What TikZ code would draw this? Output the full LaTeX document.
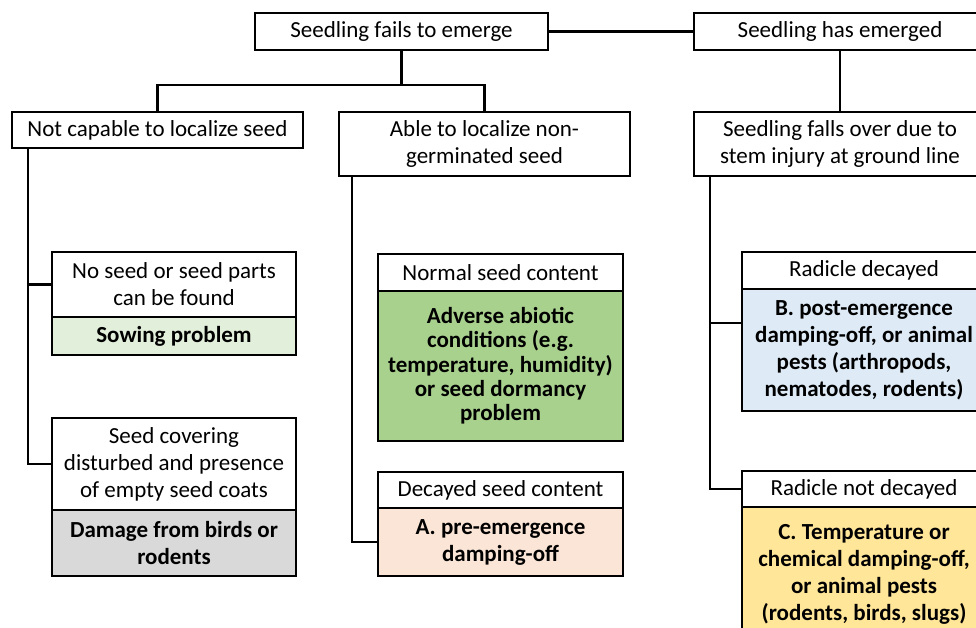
\documentclass[tikz,border=0pt]{standalone}
\usepackage{fontspec}
\setmainfont{Carlito}
\usetikzlibrary{positioning}

\definecolor{sowgreen}{RGB}{226,239,218}
\definecolor{abiogreen}{RGB}{169,209,142}
\definecolor{damagegrey}{RGB}{217,217,217}
\definecolor{prepeach}{RGB}{251,229,214}
\definecolor{postblue}{RGB}{222,235,247}
\definecolor{tempyellow}{RGB}{255,230,153}

\tikzset{
  box/.style={draw, line width=2.7pt, fill=white, align=center, inner sep=0pt, outer sep=0pt,
    font=\fontsize{23}{27}\selectfont},
  verdict/.style={box, font=\fontsize{23}{27}\selectfont\bfseries},
  link/.style={line width=2.4pt},
}

\begin{document}
\begin{tikzpicture}[x=1pt,y=1pt,yscale=-1,xscale=1]
\useasboundingbox (0,0) rectangle (976,628);
\clip (0,0) rectangle (976,628);

%Top row
\node[box, anchor=north west, minimum width=293, minimum height=37] (fails) at (255,13) {Seedling fails to emerge};
\node[box, anchor=north west, minimum width=292, minimum height=37] (emerged) at (694,13) {Seedling has emerged};

%Second row
\node[box, anchor=north west, minimum width=291, minimum height=36] (notcap) at (12,112) {Not capable to localize seed};
\node[box, anchor=north west, minimum width=291, minimum height=64] (able) at (339,112) {Able to localize non-\\germinated seed};
\node[box, anchor=north west, minimum width=292, minimum height=64] (falls) at (694,112) {Seedling falls over due to\\stem injury at ground line};

%Left column: seed not found
\node[box, anchor=north west, minimum width=244, minimum height=65] (noseed) at (52,252) {No seed or seed parts\\can be found};
\node[verdict, fill=sowgreen, minimum width=244, minimum height=38, below=0pt of noseed] (sowing) {Sowing problem};

\node[box, anchor=north west, minimum width=244, minimum height=92] (covering) at (52,418) {Seed covering\\disturbed and presence\\of empty seed coats};
\node[verdict, fill=damagegrey, minimum width=244, minimum height=66, below=0pt of covering] (damage) {Damage from birds or\\rodents};

%Middle column: seed found
\node[box, anchor=north west, minimum width=245, minimum height=37] (normal) at (378,254) {Normal seed content};
\node[verdict, fill=abiogreen, minimum width=245, minimum height=150, below=0pt of normal,
  font=\fontsize{23}{24.3}\selectfont\bfseries] (abiotic) {Adverse abiotic\\conditions (e.g.\\temperature, humidity)\\or seed dormancy\\problem};

\node[box, anchor=north west, minimum width=245, minimum height=36] (decayed) at (378,472) {Decayed seed content};
\node[verdict, fill=prepeach, minimum width=245, minimum height=68, below=0pt of decayed] (preem) {A. pre-emergence\\damping-off};

%Right column: seedling fell over
\node[box, anchor=north west, minimum width=244, minimum height=37] (radicle) at (742,252) {Radicle decayed};
\node[verdict, fill=postblue, minimum width=244, minimum height=122, below=0pt of radicle] (postem) {B. post-emergence\\damping-off, or animal\\pests (arthropods,\\nematodes, rodents)};

\node[box, anchor=north west, minimum width=244, minimum height=36] (notdec) at (742,471) {Radicle not decayed};
\node[verdict, fill=tempyellow, minimum width=244, minimum height=135, below=0pt of notdec] (chem) {C. Temperature or\\chemical damping-off,\\or animal pests\\(rodents, birds, slugs)};

%Connectors top
\draw[link] (fails) -- (emerged);
\draw[link] (fails.south) -- ++(0,35) coordinate (fork);
\draw[link] (notcap.north) |- (fork) -| (able.north);
\draw[link] (emerged) -- (falls);

%Left trunk
\coordinate (ltrunk) at (28,148);
\draw[link] (ltrunk) |- (covering.west);
\draw[link] (ltrunk |- noseed.west) -- (noseed.west);

%Middle trunk
\coordinate (mtrunk) at (352,176);
\draw[link] (mtrunk) |- (preem.west);

%Right trunk
\coordinate (rtrunk) at (710,176);
\coordinate (rbranch) at (710,323);
\draw[link] (rtrunk) |- (notdec.west);
\draw[link] (rbranch) -- (rbranch -| postem.west);

\end{tikzpicture}
\end{document}
